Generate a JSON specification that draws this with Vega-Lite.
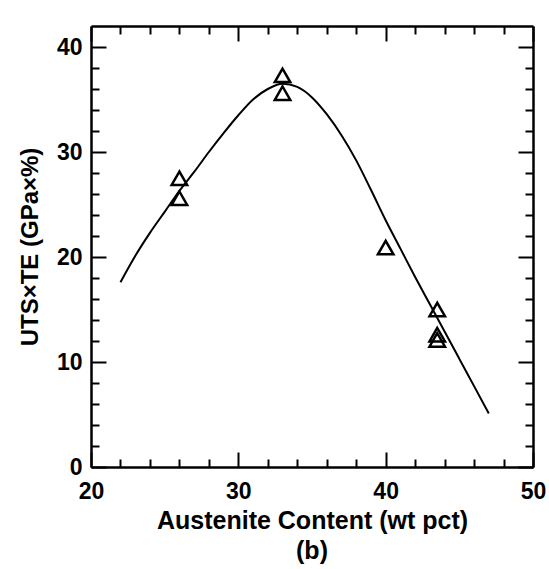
{
  "$schema": "https://vega.github.io/schema/vega-lite/v6.json",
  "width": 442,
  "height": 441,
  "autosize": {"type": "none"},
  "padding": {"left": 91, "top": 26, "right": 16, "bottom": 102},
  "background": "white",
  "title": {
    "text": "(b)",
    "orient": "bottom",
    "anchor": "middle",
    "offset": 6,
    "font": "Liberation Sans",
    "fontSize": 25,
    "fontWeight": "bold",
    "color": "black"
  },
  "config": {
    "view": {"stroke": null},
    "font": "Liberation Sans",
    "axis": {
      "grid": false,
      "domainColor": "black",
      "domainWidth": 2.5,
      "tickColor": "black",
      "tickWidth": 2,
      "labelFont": "Liberation Sans",
      "labelFontWeight": "bold",
      "labelFontSize": 23,
      "labelColor": "black",
      "labelFlush": false,
      "labelOverlap": false,
      "labelBound": false,
      "titleFont": "Liberation Sans",
      "titleFontWeight": "bold",
      "titleFontSize": 25,
      "titleColor": "black"
    }
  },
  "datasets": {
    "fit": [
      {"austenite": 22, "uts_te": 17.6},
      {"austenite": 23, "uts_te": 20.1},
      {"austenite": 24, "uts_te": 22.3},
      {"austenite": 25, "uts_te": 24.3},
      {"austenite": 26, "uts_te": 26.3},
      {"austenite": 27, "uts_te": 28.1},
      {"austenite": 28, "uts_te": 30.0},
      {"austenite": 29, "uts_te": 31.8},
      {"austenite": 30, "uts_te": 33.5},
      {"austenite": 31, "uts_te": 35.0},
      {"austenite": 32, "uts_te": 36.0},
      {"austenite": 33, "uts_te": 36.5},
      {"austenite": 34, "uts_te": 36.2},
      {"austenite": 35, "uts_te": 35.2},
      {"austenite": 36, "uts_te": 33.6},
      {"austenite": 37, "uts_te": 31.6},
      {"austenite": 38, "uts_te": 29.2},
      {"austenite": 39, "uts_te": 26.4},
      {"austenite": 40, "uts_te": 23.5},
      {"austenite": 41, "uts_te": 20.8},
      {"austenite": 42, "uts_te": 18.1},
      {"austenite": 43, "uts_te": 15.5},
      {"austenite": 44, "uts_te": 12.9},
      {"austenite": 45, "uts_te": 10.3},
      {"austenite": 46, "uts_te": 7.7},
      {"austenite": 47, "uts_te": 5.1}
    ],
    "obs": [
      {"austenite": 26, "uts_te": 27.5},
      {"austenite": 26, "uts_te": 25.6},
      {"austenite": 33, "uts_te": 37.3},
      {"austenite": 33, "uts_te": 35.6},
      {"austenite": 40, "uts_te": 20.9},
      {"austenite": 43.5, "uts_te": 15.0},
      {"austenite": 43.5, "uts_te": 12.6},
      {"austenite": 43.5, "uts_te": 12.1}
    ]
  },
  "layer": [
    {
      "data": {"name": "fit"},
      "mark": {"type": "line", "color": "black", "strokeWidth": 2, "interpolate": "monotone"},
      "encoding": {
        "x": {
          "field": "austenite", "type": "quantitative",
          "scale": {"domain": [20, 50], "nice": false, "zero": false},
          "axis": {
            "orient": "bottom",
            "values": [20, 30, 40, 50],
            "ticks": false,
            "labelPadding": 13,
            "title": "Austenite Content (wt pct)",
            "titlePadding": 5
          }
        },
        "y": {
          "field": "uts_te", "type": "quantitative",
          "scale": {"domain": [0, 42], "nice": false, "zero": false},
          "axis": {
            "orient": "left",
            "values": [0, 10, 20, 30, 40],
            "ticks": false,
            "labelPadding": 9,
            "title": "UTS×TE (GPa×%)",
            "titleFontSize": 24,
            "titlePadding": 14
          }
        }
      }
    },
    {
      "data": {"name": "obs"},
      "mark": {"type": "point", "shape": "triangle-up", "filled": false, "stroke": "black", "strokeWidth": 2.5, "size": 240, "opacity": 1},
      "encoding": {
        "x": {
          "field": "austenite", "type": "quantitative",
          "scale": {"domain": [20, 50], "nice": false, "zero": false},
          "axis": {"orient": "bottom", "offset": -441, "values": [20, 30, 40, 50], "tickSize": 15, "labelExpr": "''", "title": " ", "titleOpacity": 0}
        },
        "y": {
          "field": "uts_te", "type": "quantitative",
          "scale": {"domain": [0, 42], "nice": false, "zero": false},
          "axis": {"orient": "left", "offset": -442, "values": [0, 10, 20, 30, 40], "tickSize": 15, "labelExpr": "''", "title": " ", "titleOpacity": 0}
        }
      }
    },
    {
      "data": {"name": "obs"},
      "mark": {"type": "point", "opacity": 0},
      "encoding": {
        "x": {
          "field": "austenite", "type": "quantitative",
          "scale": {"domain": [20, 50], "nice": false, "zero": false},
          "axis": {"orient": "bottom", "offset": -441, "values": [22, 24, 26, 28, 32, 34, 36, 38, 42, 44, 46, 48], "tickSize": 8, "domain": false, "labelExpr": "''", "title": " ", "titleOpacity": 0}
        },
        "y": {
          "field": "uts_te", "type": "quantitative",
          "scale": {"domain": [0, 42], "nice": false, "zero": false},
          "axis": {"orient": "left", "offset": -442, "values": [2, 4, 6, 8, 12, 14, 16, 18, 22, 24, 26, 28, 32, 34, 36, 38], "tickSize": 8, "domain": false, "labelExpr": "''", "title": " ", "titleOpacity": 0}
        }
      }
    },
    {
      "data": {"name": "obs"},
      "mark": {"type": "point", "opacity": 0},
      "encoding": {
        "x": {
          "field": "austenite", "type": "quantitative",
          "scale": {"domain": [20, 50], "nice": false, "zero": false},
          "axis": {"orient": "top", "offset": -441, "values": [20, 30, 40, 50], "tickSize": 15, "domain": false, "labelExpr": "''", "title": " ", "titleOpacity": 0}
        },
        "y": {
          "field": "uts_te", "type": "quantitative",
          "scale": {"domain": [0, 42], "nice": false, "zero": false},
          "axis": {"orient": "right", "offset": -442, "values": [0, 10, 20, 30, 40], "tickSize": 15, "domain": false, "labelExpr": "''", "title": " ", "titleOpacity": 0}
        }
      }
    },
    {
      "data": {"name": "obs"},
      "mark": {"type": "point", "opacity": 0},
      "encoding": {
        "x": {
          "field": "austenite", "type": "quantitative",
          "scale": {"domain": [20, 50], "nice": false, "zero": false},
          "axis": {"orient": "top", "offset": -441, "values": [22, 24, 26, 28, 32, 34, 36, 38, 42, 44, 46, 48], "tickSize": 8, "domain": false, "labelExpr": "''", "title": " ", "titleOpacity": 0}
        },
        "y": {
          "field": "uts_te", "type": "quantitative",
          "scale": {"domain": [0, 42], "nice": false, "zero": false},
          "axis": {"orient": "right", "offset": -442, "values": [2, 4, 6, 8, 12, 14, 16, 18, 22, 24, 26, 28, 32, 34, 36, 38], "tickSize": 8, "domain": false, "labelExpr": "''", "title": " ", "titleOpacity": 0}
        }
      }
    }
  ],
  "resolve": {
    "scale": {"x": "independent", "y": "independent"},
    "axis": {"x": "independent", "y": "independent"}
  }
}
